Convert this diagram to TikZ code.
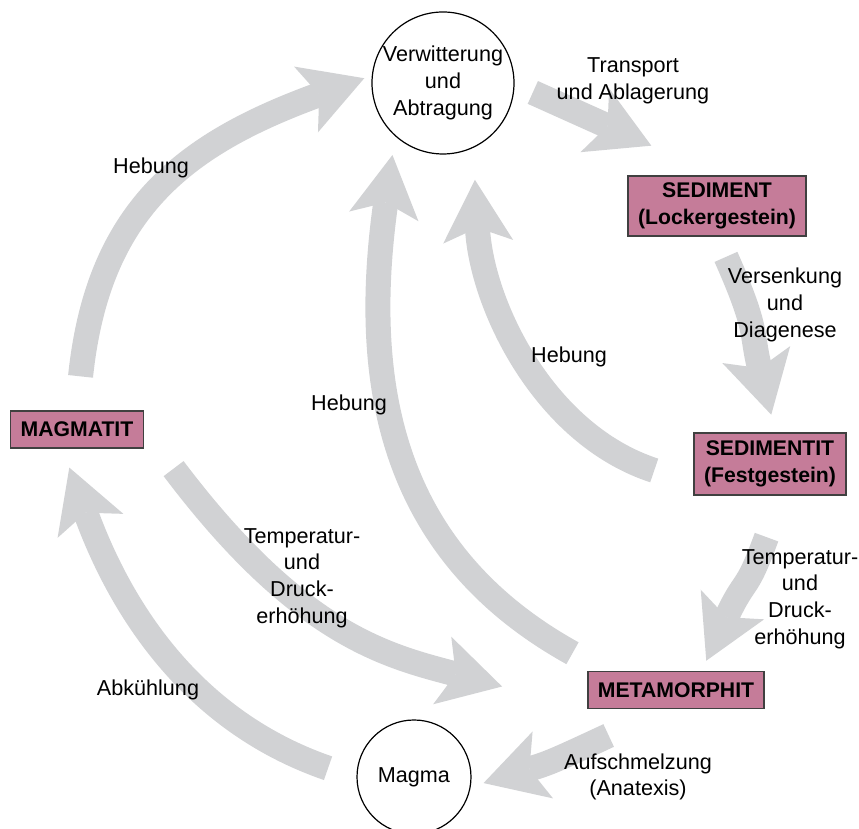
\documentclass[tikz,border=0pt]{standalone}
\usepackage{fontspec}
\setmainfont{Liberation Sans}
\usetikzlibrary{arrows.meta}

\definecolor{flowgray}{HTML}{D1D2D4}
\definecolor{rockrose}{HTML}{C57C99}

\begin{document}
\begin{tikzpicture}[x=0.5pt,y=0.5pt,
    font=\fontsize{10.8}{13.3}\selectfont,
    rock/.style={draw=black!75,line width=0.8pt,fill=rockrose,align=center,%
      inner xsep=5pt,inner ysep=0pt,minimum height=18.5pt,%
      font=\fontsize{10.6}{13.3}\selectfont\bfseries},
    station/.style={circle,draw,line width=0.6pt,fill=white,align=center,inner sep=0pt},
    note/.style={align=center,inner sep=0pt},
    flow/.style={draw=flowgray,line width=12.5pt,%
      -{Stealth[length=31pt,width=35pt,inset=7pt,line width=0pt]}}]

  % ここまでをバウンディングボックス内とする
  \useasboundingbox (0,0) rectangle (859,829);

  % 岩石と過程
  \node[station,minimum size=71pt] (verw) at (443,746) {Verwitterung\\und\\Abtragung};
  \node[station,minimum size=57pt] (magma) at (414,52) {Magma};
  \node[rock,minimum height=30pt] (sediment) at (717,623) {SEDIMENT\\(Lockergestein)};
  \node[rock,minimum height=31pt] (sedimentit) at (770,365) {SEDIMENTIT\\(Festgestein)};
  \node[rock] (metamorphit) at (676,139) {METAMORPHIT};
  \node[rock] (magmatit) at (77,399.5) {MAGMATIT};

  % 矢印
  \draw[flow,shorten <=17pt,shorten >=4pt] (magmatit.north)
    to[out=84,in=200,looseness=1.15] (verw.174);
  \draw[flow,shorten <=10pt,shorten >=36pt] (verw.-1) -- (sediment.north);
  \draw[flow,shorten <=11pt,shorten >=9pt] (sediment.south)
    to[out=-66,in=104,looseness=1.3] (sedimentit.80);
  \draw[flow,shorten <=20.5pt,shorten >=16pt] (sedimentit.194)
    to[out=162,in=-87] (verw.-65);
  \draw[flow,shorten <=18pt,shorten >=9.5pt] (metamorphit.165)
    to[out=151,in=262,looseness=1.1] (verw.228);
  \draw[flow,shorten <=24.5pt,shorten >=44pt] (magmatit.east)
    to[out=-53,in=165,out looseness=1.27] (metamorphit.south west);
  \draw[flow,shorten <=22pt,shorten >=5.5pt] (sedimentit.-70)
    to[out=250,in=65,looseness=1.4] (metamorphit.37);
  \draw[flow,shorten <=31pt,shorten >=6.7pt] (metamorphit.240)
    to[out=205,in=17,out looseness=1.5] (magma.-10);
  \draw[flow,shorten <=15pt,shorten >=10pt] (magma.181)
    to[out=161,in=-70] (magmatit.233);

  % ラベル
  \node[note] (transport) at (633,748) {Transport\\und Ablagerung};
  \node[note] (hebungA) at (151,661) {Hebung};
  \node[note] (versenkung) at (785,524) {Versenkung\\und\\Diagenese};
  \node[note] (hebungB) at (569,472) {Hebung};
  \node[note] (hebungC) at (349,424) {Hebung};
  \node[note] (druckA) at (302,251) {Temperatur-\\und\\Druck-\\erhöhung};
  \node[note] (druckB) at (800,230) {Temperatur-\\und\\Druck-\\erhöhung};
  \node[note] (abkuehlung) at (148,139) {Abkühlung};
  \node[note] (anatexis) at (638,52) {Aufschmelzung\\(Anatexis)};
\end{tikzpicture}
\end{document}
